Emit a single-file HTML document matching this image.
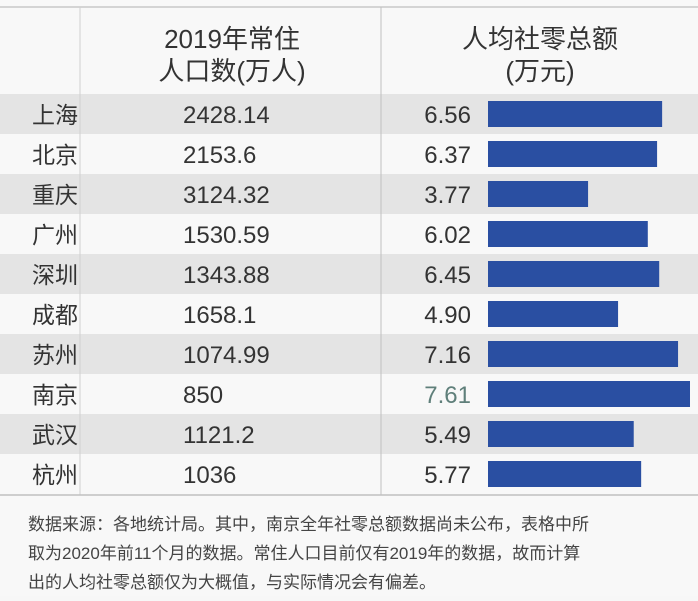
<!DOCTYPE html>
<html><head><meta charset="utf-8"><style>
body{margin:0;width:698px;height:596px;background:#f7f7f7;overflow:hidden;font-family:"Liberation Sans","Noto Sans CJK SC",sans-serif;}
svg text{font-family:"Liberation Sans","Noto Sans CJK SC",sans-serif;}
</style></head><body>
<svg id="c" width="698" height="596">
<rect x="0" y="0" width="698" height="596" fill="#f8f8f8"/>
<line x1="0" y1="7" x2="698" y2="7" stroke="#c8c8c8" stroke-width="1.5"/>
<text x="232" y="48" font-size="26" fill="#333" text-anchor="middle">2019年常住</text>
<text x="232" y="80" font-size="26" fill="#333" text-anchor="middle">人口数(万人)</text>
<text x="540" y="48" font-size="26" fill="#333" text-anchor="middle">人均社零总额</text>
<text x="540" y="80" font-size="26" fill="#333" text-anchor="middle">(万元)</text>
<g id="rows"></g>
<line x1="80" y1="7" x2="80" y2="495" stroke="#d0d0d0"/>
<line x1="381" y1="7" x2="381" y2="495" stroke="#c0c0c0"/>
<line x1="0" y1="495" x2="698" y2="495" stroke="#c0c0c0" stroke-width="1.5"/>
<text x="28" y="530" font-size="17" fill="#444">数据来源：各地统计局。其中，南京全年社零总额数据尚未公布，表格中所</text>
<text x="28" y="559" font-size="17" fill="#444">取为2020年前11个月的数据。常住人口目前仅有2019年的数据，故而计算</text>
<text x="28" y="588" font-size="17" fill="#444">出的人均社零总额仅为大概值，与实际情况会有偏差。</text>
</svg>
<script>
const cities=["上海","北京","重庆","广州","深圳","成都","苏州","南京","武汉","杭州"];
const population=["2428.14","2153.6","3124.32","1530.59","1343.88","1658.1","1074.99","850","1121.2","1036"];
const perCapita=[6.56,6.37,3.77,6.02,6.45,4.90,7.16,7.61,5.49,5.77];
const NS="http://www.w3.org/2000/svg";
const g=document.getElementById("rows");
const rowTop=94,rowH=40,barX=488;
const xs=v=>v*(202/7.61);
function mk(tag,attrs,txt){const e=document.createElementNS(NS,tag);for(const k in attrs)e.setAttribute(k,attrs[k]);if(txt!=null)e.textContent=txt;g.appendChild(e);return e;}
cities.forEach((c,i)=>{
  const y=rowTop+i*rowH;
  if(i%2===0){const r=mk("rect",{x:0,y:y,width:698,height:rowH,fill:"#e4e4e4"});
    
    }
  const t1=mk("text",{x:55,y:y+29,"font-size":23,fill:"#333","text-anchor":"middle"},c);
  
  
  const t2=mk("text",{x:183,y:y+29,"font-size":24,fill:"#333"},population[i]);
  
  
  const t3=mk("text",{x:471,y:y+29,"font-size":24,fill:i===7?"#5f7f7a":"#333","text-anchor":"end"},perCapita[i].toFixed(2));
  
  
  const b=mk("rect",{x:barX,y:y+7,width:xs(perCapita[i]),height:26,fill:"#2a4fa2"});
  
  
});
</script>
</body></html>
